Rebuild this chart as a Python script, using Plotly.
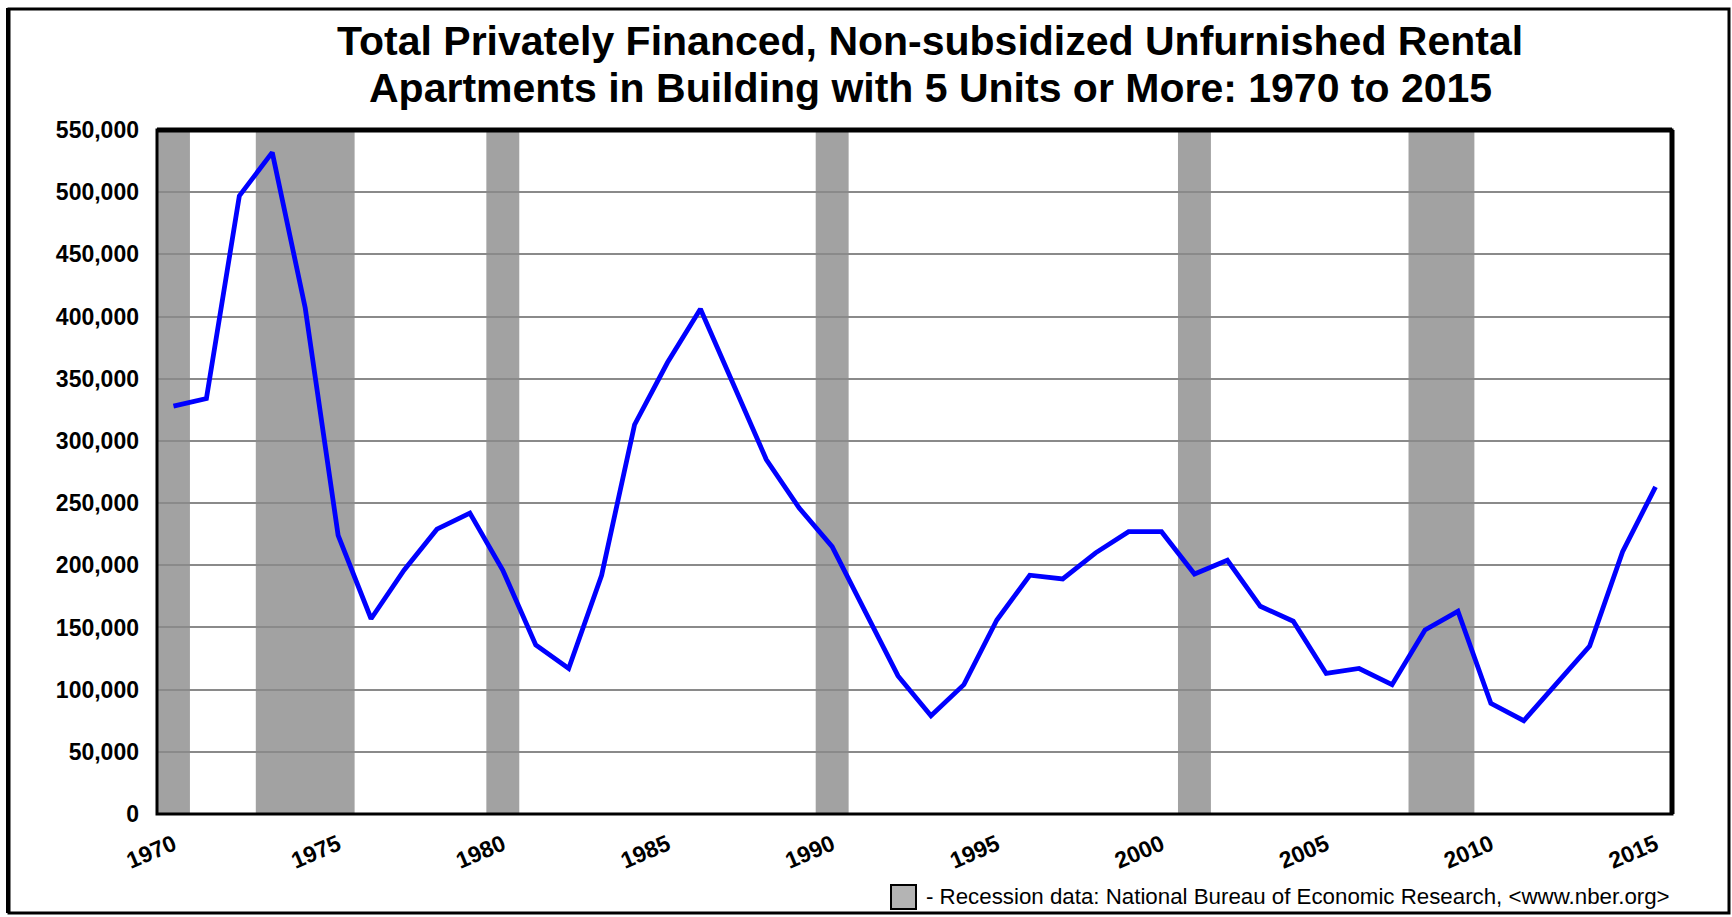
import plotly.graph_objects as go

# ---- data ----
years = list(range(1970, 2016))
units = [
    328000, 334000, 497000, 532000, 407000, 224000, 157000, 196000, 229000, 242000,
    196000, 136000, 117000, 192000, 313000, 363000, 406000, 345000, 285000, 246000,
    215000, 163000, 111000, 79000, 104000, 156000, 192000, 189000, 210000, 227000,
    227000, 193000, 204000, 167000, 155000, 113000, 117000, 104000, 148000, 163000,
    89000, 75000, 105000, 135000, 211000, 263000,
]
recession_years = [1970, 1973, 1974, 1975, 1980, 1990, 2001, 2008, 2009]
x_tick_vals = [1970, 1975, 1980, 1985, 1990, 1995, 2000, 2005, 2010, 2015]
y_tick_vals = list(range(0, 550001, 50000))

title_line1 = "Total Privately Financed, Non-subsidized Unfurnished Rental"
title_line2 = "Apartments in Building with 5 Units or More: 1970 to 2015"
note_text = "- Recession data: National Bureau of Economic Research, <www.nber.org>"

W, H = 1732, 917
L, R, T, B = 157, 60, 130, 103
FONT = "Liberation Sans, Arial, sans-serif"

fig = go.Figure()
fig.add_trace(go.Scatter(
    x=years, y=units, mode="lines",
    line=dict(color="#0000FF", width=4.8),
    showlegend=False, hoverinfo="x+y",
))

# merge consecutive recession years into continuous bands
runs = []
for yr in recession_years:
    if runs and yr == runs[-1][1] + 1:
        runs[-1][1] = yr
    else:
        runs.append([yr, yr])

shapes = []
for a, b in runs:
    shapes.append(dict(type="rect", xref="x", yref="y", x0=a - 0.5, x1=b + 0.5,
                       y0=0, y1=550000, fillcolor="#a2a2a2", line=dict(width=0),
                       layer="below"))
# plot frame
shapes.append(dict(type="rect", xref="paper", yref="paper", x0=0, x1=1, y0=0, y1=1,
                   line=dict(color="black", width=3), layer="above"))
shapes.append(dict(type="line", xref="paper", yref="paper", x0=0, x1=1, y0=1, y1=1,
                   line=dict(color="black", width=5), layer="above"))
shapes.append(dict(type="line", xref="paper", yref="paper", x0=1, x1=1, y0=0, y1=1,
                   line=dict(color="black", width=5), layer="above"))

# outer frame (paper coords extended beyond plot area)
pw, ph = W - L - R, H - T - B
def px_x(p):
    return (p - L) / pw
def px_y(p):
    return (H - B - p) / ph
shapes.append(dict(type="rect", xref="paper", yref="paper",
                   x0=px_x(9), x1=px_x(1729), y0=px_y(913), y1=px_y(9),
                   line=dict(color="black", width=3), layer="above"))
shapes.append(dict(type="line", xref="paper", yref="paper",
                   x0=px_x(8), x1=px_x(8), y0=px_y(913), y1=px_y(8),
                   line=dict(color="black", width=4), layer="above"))
# legend swatch
shapes.append(dict(type="rect", xref="paper", yref="paper",
                   x0=px_x(891), x1=px_x(916), y0=px_y(909), y1=px_y(885),
                   fillcolor="#b4b4b4", line=dict(color="black", width=2), layer="above"))

title_font = dict(family=FONT, size=41, color="black", weight="bold")
fig.update_layout(
    width=W, height=H,
    margin=dict(l=L, r=R, t=T, b=B),
    paper_bgcolor="white", plot_bgcolor="white",
    shapes=shapes,
    annotations=[
        dict(text=title_line1, xref="paper", yref="paper", x=px_x(930), y=px_y(41),
             xanchor="center", yanchor="middle", showarrow=False, font=title_font),
        dict(text=title_line2, xref="paper", yref="paper", x=px_x(930), y=px_y(88),
             xanchor="center", yanchor="middle", showarrow=False, font=title_font),
        dict(text=note_text, xref="paper", yref="paper", x=px_x(924), y=px_y(897),
             xanchor="left", yanchor="middle", showarrow=False,
             font=dict(family=FONT, size=22.3, color="black")),
    ],
    xaxis=dict(range=[1969.5, 2015.5], tickvals=x_tick_vals, ticktext=[str(v) for v in x_tick_vals],
               tickangle=-23, showgrid=False, zeroline=False, showline=False, ticks="",
               ticklabelstandoff=12,
               tickfont=dict(family=FONT, size=23, color="black", weight="bold")),
    yaxis=dict(range=[0, 550000], tickvals=y_tick_vals, tickformat=",d",
               showgrid=True, gridcolor="#8a8a8a", gridwidth=1.5, zeroline=False,
               showline=False, ticks="", ticklabelstandoff=17,
               tickfont=dict(family=FONT, size=23, color="black", weight="bold")),
)

fig.write_html("out.html", config={"displayModeBar": False},
               post_script="document.body.style.margin='0px';")
